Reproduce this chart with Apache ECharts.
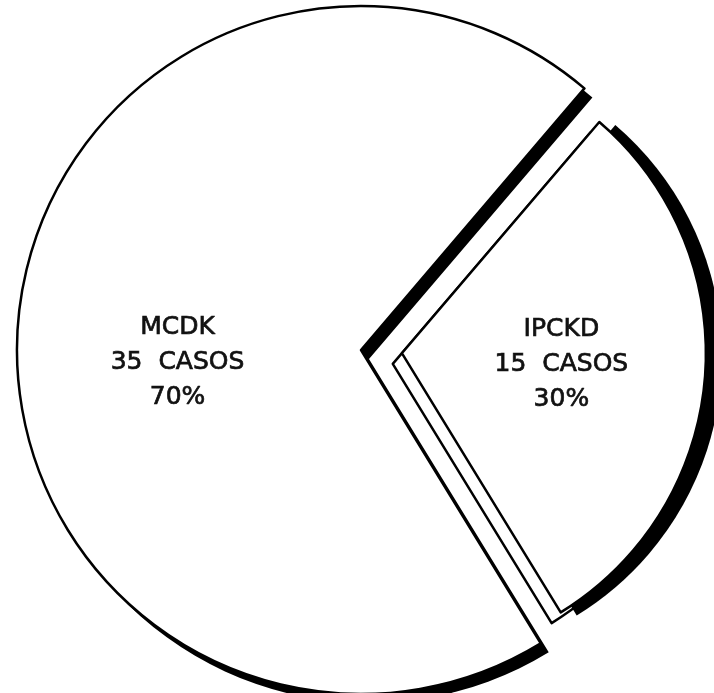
<!DOCTYPE html>
<html>
<head>
<meta charset="utf-8">
<script src="https://cdn.jsdelivr.net/npm/echarts@6/dist/echarts.min.js"></script>
<style>
html,body{margin:0;padding:0;background:#fff;}
#chart{width:714px;height:693px;}
</style>
</head>
<body>
<div id="chart"></div>
<script>
// Data
var categories = ['IPCKD', 'MCDK'];
var cases = [15, 35];
var unitLabel = 'CASOS';

var chart = echarts.init(document.getElementById('chart'), null, {renderer: 'canvas'});

var hidden = { color: 'rgba(0,0,0,0)', borderWidth: 0 };
function fmt(p) {
  return p.name + '\n' + p.value + '  ' + unitLabel + '\n' + Math.round(p.percent) + '%';
}
var labelBase = {
  show: true, position: 'inside', color: '#111',
  fontFamily: 'DejaVu Sans', fontSize: 25, lineHeight: 35,
  textBorderColor: '#111', textBorderWidth: 0.7,
  formatter: fmt
};

function buildData(visibleIndex, style, label) {
  return categories.map(function (name, i) {
    var item = { name: name, value: cases[i], selected: i === 0 };
    if (i === visibleIndex) {
      item.itemStyle = style;
      item.label = label || { show: false };
    } else {
      item.itemStyle = hidden;
      item.label = { show: false };
    }
    return item;
  });
}

var cx = 361, cy = 350;
var startAngle = 49.5;
var bigR = 344, smallR = 304, explode = 41;
var rad = startAngle * Math.PI / 180;
var wallDepth = 14;

function pie(extra) {
  return Object.assign({
    type: 'pie',
    center: [cx, cy],
    startAngle: startAngle,
    clockwise: true,
    selectedMode: 'multiple',
    selectedOffset: explode,
    avoidLabelOverlap: false,
    labelLine: { show: false },
    emphasis: { disabled: true },
    silent: true,
    animation: false
  }, extra);
}

var shadowStyle = { color: '#000', borderWidth: 0 };
var faceStyle = { color: '#fff', borderColor: '#000', borderWidth: 2.5 };

var option = {
  backgroundColor: '#fff',
  series: [
    // big slice shadow
    pie({ radius: bigR, selectedOffset: 0, center: [cx + 8, cy + 9], data: buildData(1, shadowStyle) }),
    // big slice face
    pie({ radius: bigR, selectedOffset: 0,
          labelLayout: { dx: -9, dy: 26 },
          data: buildData(1, faceStyle, labelBase) }),
    // small slice side wall (lower-left edge)
    pie({ radius: smallR,
          center: [cx - wallDepth * Math.cos(rad), cy + wallDepth * Math.sin(rad)],
          data: buildData(0, faceStyle) }),
    // small slice shadow
    pie({ radius: smallR, center: [cx + 16, cy + 3], data: buildData(0, shadowStyle) }),
    // small slice face
    pie({ radius: smallR,
          labelLayout: { dx: 5, dy: -1 },
          data: buildData(0, faceStyle, labelBase) })
  ]
};
chart.setOption(option);
</script>
</body>
</html>
